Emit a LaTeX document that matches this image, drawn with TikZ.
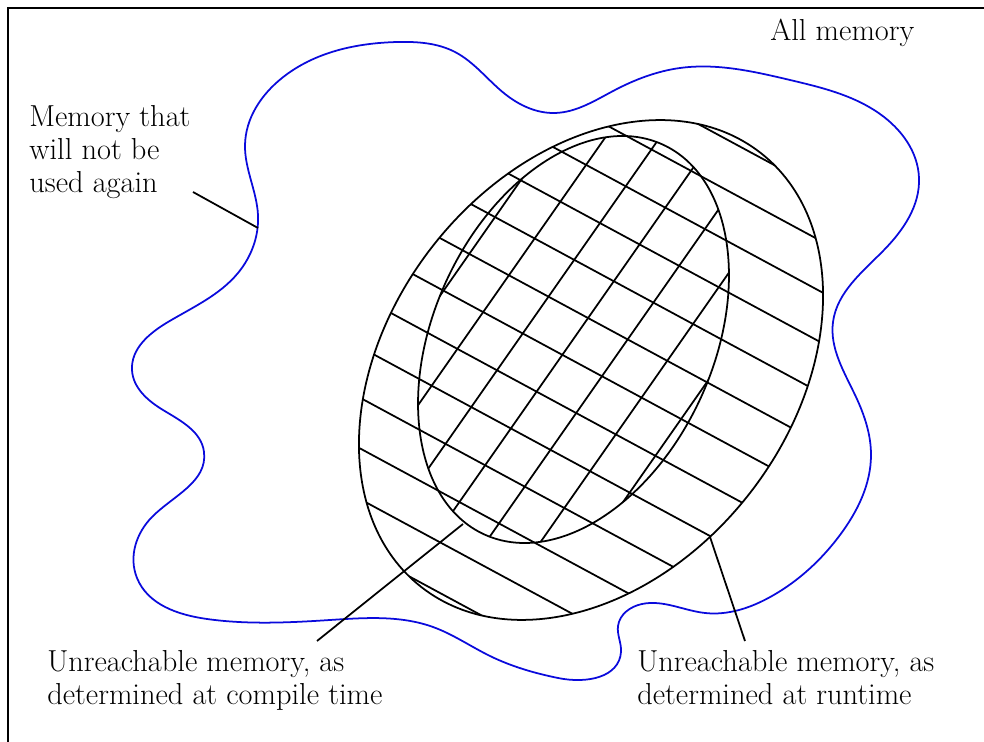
\documentclass[tikz,border=0pt]{standalone}
\usepackage{tikz}
\usetikzlibrary{positioning,hobby}
\definecolor{memblue}{HTML}{0A0ADC}

\begin{document}
\begin{tikzpicture}[x=0.02cm,y=-0.02cm,font=\fontsize{17.28}{18.8}\selectfont,
  memline/.style={memblue,line width=1pt},
  hatch/.style={black,line width=1pt},
  pointer/.style={black,line width=1pt},
  lbl/.style={anchor=base west,align=left,inner sep=0pt}]
\useasboundingbox (0,0) rectangle (984,742);
\draw[line width=1.6pt] (8,742) -- (8,8) -- (984,8);
% region that will not be used again
\draw[memline] plot[closed hobby] coordinates {
  (398,42) (455,52) (505,94) (555,113) (615,90) (680,68) (790,80) (880,114)
  (919,178) (884,250) (833,322) (856,397) (871,455) (840,535) (772,596)
  (705,613) (642,604) (618,626) (621,652) (558,678) (490,656) (433,627)
  (330,620) (207,619) (137,578) (152,517) (204,452) (163,410) (132,370)
  (168,322) (238,273) (258,215) (245,145) (282,78)};
% runtime: single hatching
\begin{scope}
  \clip[rotate around={52:(591,370)}] (591,370) ellipse [x radius=275.5,y radius=201];
  \foreach \k [evaluate=\k as \c using -253+50.7*\k] in {0,...,12}
    \draw[hatch] (330,{0.54*330+\c}) -- (860,{0.54*860+\c});
\end{scope}
% compile time: cross hatching
\begin{scope}
  \clip[rotate around={65.4:(573.5,339.5)}] (573.5,339.5) ellipse [x radius=214.4,y radius=140];
  \foreach \k [evaluate=\k as \c using 925+78*\k] in {0,...,6}
    \draw[hatch] (380,{\c-1.43*380}) -- (780,{\c-1.43*780});
\end{scope}
\draw[hatch,rotate around={52:(591,370)}] (591,370) ellipse [x radius=275.5,y radius=201];
\draw[hatch,rotate around={65.4:(573.5,339.5)}] (573.5,339.5) ellipse [x radius=214.4,y radius=140];

\node[lbl] (allmem) at (770,41) {All memory};
\node[lbl] (unused) at (29,193) {Memory that\\will not be\\used again};
\node[lbl] (compile) at (47,705) {Unreachable memory, as\\determined at compile time};
\node[lbl] (runtime) at (637,705) {Unreachable memory, as\\determined at runtime};

\coordinate (unusedTip) at (258,228);
\coordinate (unusedFoot) at (193,192);
\coordinate (compileTip) at (463,524);
\coordinate (compileFoot) at (317,641);
\coordinate (runtimeTip) at (710,537);
\coordinate (runtimeFoot) at (745,641);
\draw[pointer] (unusedFoot) -- (unusedTip);
\draw[pointer] (compileFoot) -- (compileTip);
\draw[pointer] (runtimeFoot) -- (runtimeTip);
\end{tikzpicture}
\end{document}
